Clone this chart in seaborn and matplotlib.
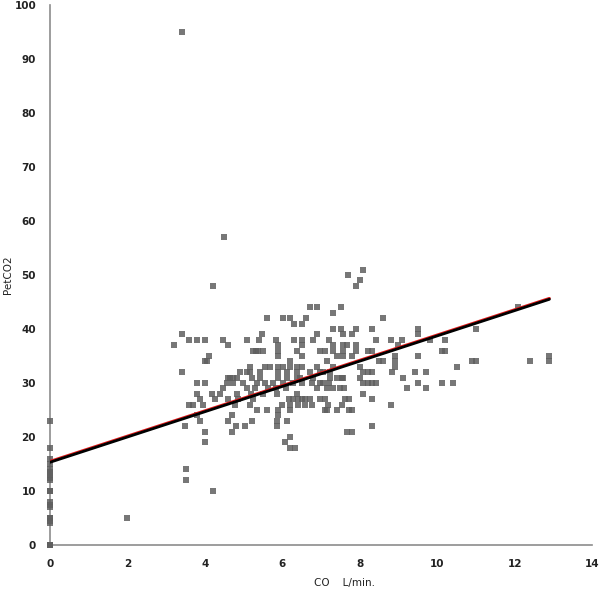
import numpy as np
import pandas as pd
import matplotlib
matplotlib.use("Agg")
import matplotlib.pyplot as plt
import matplotlib.transforms as mtransforms
import seaborn as sns

# ---- data ----
co = [
    # x = 0 column
    0, 0, 0, 0, 0, 0, 0, 0, 0, 0, 0, 0, 0, 0, 0, 0, 0, 0, 0, 0, 0,
    # isolated
    2.0, 3.4, 4.5, 4.21, 4.2, 3.5, 3.5,
    # x < 6.46
    5.61, 6.02, 6.2,
    6.3,
    3.41, 5.48,
    3.59, 3.80, 4.0, 4.47, 5.09, 5.40, 5.84, 6.30,
    3.2, 4.6, 5.89,
    5.32, 5.5, 5.89, 6.38, 5.25, 5.38,
    5.89, 4.1,
    4.05, 4.0, 6.2,
    5.17, 5.56, 5.68, 5.89, 6.02, 6.2, 6.38,
    3.41, 4.91, 5.17, 5.43, 5.89, 6.12, 6.38, 5.09,
    4.65, 4.83, 5.22, 5.43, 5.89, 6.12, 6.38, 4.6, 4.73,
    3.8, 4.0, 4.57, 4.73, 4.99, 5.35, 5.56, 5.76, 6.02, 6.28,
    4.47, 5.09, 5.63, 5.84, 5.3, 6.1,
    3.8, 4.19, 4.39, 4.83, 5.87, 6.38, 5.2, 5.5,
    3.88, 4.26, 4.6, 4.86, 5.25, 6.17, 6.28, 6.41,
    3.7, 3.95, 4.78, 5.17, 6.0, 6.2, 6.41, 3.6,
    5.35, 5.61, 5.89, 6.2,
    4.7, 5.89, 3.8,
    3.88, 4.6, 5.22, 5.87, 6.12,
    3.49, 4.8, 5.04, 5.87,
    4.7, 4.0,
    6.2,
    4.0, 6.07,
    6.2, 6.33,
    # x >= 6.46
    8.09, 7.70, 8.01, 7.91,
    6.72, 6.90, 7.52, 12.1,
    7.31,
    8.6, 6.6,
    6.5,
    7.31, 7.52, 7.91, 8.32, 9.5, 11.0,
    7.57, 7.80, 9.5, 6.9,
    6.51, 6.80, 7.21, 8.42, 8.81, 9.10, 9.82, 10.2,
    6.51, 7.31, 7.67, 7.91, 9.0, 7.57,
    7.1, 7.31, 7.57, 7.91, 8.22, 8.32, 10.13, 10.2, 6.98,
    6.51, 7.41, 7.80, 8.91, 9.51, 7.57, 12.9,
    8.5, 8.6, 8.91, 10.9, 11.0, 12.4, 12.9, 7.16,
    6.51, 7.31, 8.01, 8.91, 10.5, 6.9,
    6.72, 6.98, 7.24, 8.09, 8.22, 8.32, 8.84, 9.43, 9.72, 7.05,
    6.46, 6.80, 7.24, 7.41, 7.57, 8.01, 9.12, 7.55,
    6.51, 6.98, 7.21, 8.09, 8.22, 8.32, 8.42, 9.51, 10.13, 10.41, 6.77, 7.05,
    6.90, 7.31, 7.49, 7.60, 9.22, 9.72, 7.16,
    8.09,
    6.51, 6.59, 6.72, 7.1, 7.62, 7.73, 8.32, 6.98,
    6.59, 7.18, 8.81, 6.77, 7.55,
    7.1, 7.41, 7.73, 7.80, 7.16,
    8.32,
    7.67, 7.80,
]

petco2 = [
    # x = 0 column
    0, 0, 0, 4, 4.5, 5, 5, 7, 7.5, 8, 10, 10, 12, 12.5, 13, 13.5, 14, 15, 16, 18, 23,
    # isolated
    5, 95, 57, 48, 10, 14, 12,
    # x < 6.46
    42, 42, 42,
    41,
    39, 39,
    38, 38, 38, 38, 38, 38, 38, 38,
    37, 37, 37,
    36, 36, 36, 36, 36, 36,
    35, 35,
    34, 34, 34,
    33, 33, 33, 33, 33, 33, 33,
    32, 32, 32, 32, 32, 32, 32, 32,
    31, 31, 31, 31, 31, 31, 31, 31, 31,
    30, 30, 30, 30, 30, 30, 30, 30, 30, 30,
    29, 29, 29, 29, 29, 29,
    28, 28, 28, 28, 28, 28, 28, 28,
    27, 27, 27, 27, 27, 27, 27, 27,
    26, 26, 26, 26, 26, 26, 26, 26,
    25, 25, 25, 25,
    24, 24, 24,
    23, 23, 23, 23, 23,
    22, 22, 22, 22,
    21, 21,
    20,
    19, 19,
    18, 18,
    # x >= 6.46
    51, 50, 49, 48,
    44, 44, 44, 44,
    43,
    42, 42,
    41,
    40, 40, 40, 40, 40, 40,
    39, 39, 39, 39,
    38, 38, 38, 38, 38, 38, 38, 38,
    37, 37, 37, 37, 37, 37,
    36, 36, 36, 36, 36, 36, 36, 36, 36,
    35, 35, 35, 35, 35, 35, 35,
    34, 34, 34, 34, 34, 34, 34, 34,
    33, 33, 33, 33, 33, 33,
    32, 32, 32, 32, 32, 32, 32, 32, 32, 32,
    31, 31, 31, 31, 31, 31, 31, 31,
    30, 30, 30, 30, 30, 30, 30, 30, 30, 30, 30, 30,
    29, 29, 29, 29, 29, 29, 29,
    28,
    27, 27, 27, 27, 27, 27, 27, 27,
    26, 26, 26, 26, 26,
    25, 25, 25, 25, 25,
    22,
    21, 21,
]

# trend line
trend_intercept = 15.5
trend_slope = 2.34
trend_x = [0, 12.9]

x_ticks = [0, 2, 4, 6, 8, 10, 12, 14]
y_ticks = [0, 10, 20, 30, 40, 50, 60, 70, 80, 90, 100]

df = pd.DataFrame({"CO": co, "PetCO2": petco2})
trend = pd.DataFrame({"x": trend_x})
trend["y"] = trend_intercept + trend_slope * trend["x"]

sns.set_style("white")
plt.rcParams["font.family"] = ["DejaVu Sans"]

fig = plt.figure(figsize=(6.0, 5.89), dpi=100)
ax = fig.add_axes([50 / 600, 44 / 589, 542 / 600, 540 / 589])

sns.scatterplot(data=df, x="CO", y="PetCO2", marker="s", s=16,
                color="#5f5f5f", alpha=0.85, linewidth=0, ax=ax, zorder=3,
                clip_on=False)
sns.lineplot(data=trend, x="x", y="y", color="#e01818", linewidth=2.0,
             ax=ax, zorder=4)
sns.lineplot(data=trend, x="x", y="y", color="black", linewidth=2.0,
             ax=ax, zorder=5)
# shift the black line a hair downward so the red edge shows on top
black_line = ax.get_lines()[-1]
black_line.set_transform(mtransforms.offset_copy(ax.transData, fig=fig,
                                                 x=0, y=-0.7, units="points"))

ax.set_xlim(0, 14)
ax.set_ylim(0, 100)
ax.set_xticks(x_ticks)
ax.set_yticks(y_ticks)
ax.set_xticklabels([str(t) for t in x_ticks], fontsize=7.5, fontweight="bold")
ax.set_yticklabels([str(t) for t in y_ticks], fontsize=7.5, fontweight="bold")

for side in ["top", "right"]:
    ax.spines[side].set_visible(False)
for side in ["left", "bottom"]:
    ax.spines[side].set_color("#8c8c8c")
    ax.spines[side].set_linewidth(1.2)
ax.tick_params(axis="both", which="major", direction="out", length=4,
               width=1.0, color="#8c8c8c", pad=6, labelcolor="#222222")
ax.tick_params(axis="y", pad=6)

ax.set_xlabel("CO    L/min.", fontsize=7.5, color="#222222")
ax.xaxis.set_label_coords(0.544, -0.062)
ax.set_ylabel("PetCO2", fontsize=7.5, color="#222222")
ax.yaxis.set_label_coords(-0.068, 0.5)

fig.savefig("out.png", dpi=100)
